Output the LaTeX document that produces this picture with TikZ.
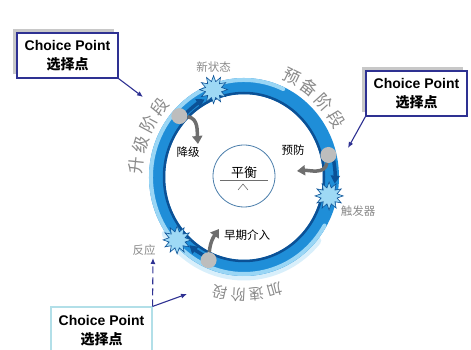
\documentclass[tikz,border=0pt]{standalone}
\usepackage{fontspec}
\setmainfont{Liberation Sans}
\newfontfamily\cjk{Noto Sans CJK SC}
\usetikzlibrary{arrows.meta,positioning,calc,shapes.geometric,shadows}
\definecolor{cpnavy}{HTML}{2E3192}
\definecolor{cpcyan}{HTML}{B2DFE8}
\definecolor{cpshadow}{HTML}{C8C8C8}
\definecolor{ringblue}{HTML}{1F8ED8}
\definecolor{ringdark}{HTML}{0B5196}
\definecolor{ringlight}{HTML}{9AD6F5}
\definecolor{ringhalo}{HTML}{D8EFFB}
\definecolor{starfill}{HTML}{9ED9F5}
\definecolor{labgray}{HTML}{8A8A8A}
\definecolor{dotgray}{HTML}{BDBDBD}
\definecolor{armgray}{HTML}{6E6E6E}
\definecolor{balblue}{HTML}{4A7DAA}
\tikzset{
  cpbox/.style={draw=cpnavy, line width=1.1pt, fill=white, align=center,
    font=\bfseries\fontsize{14}{19}\selectfont, minimum width=101pt,
    minimum height=45pt, inner sep=0pt},
  cpshade/.style={general shadow={fill=cpshadow, shadow xshift=-4pt, shadow yshift=4pt}},
  cparr/.style={-{Latex[length=6pt,width=5pt]}, cpnavy, line width=1.1pt},
  burst/.style={star, star points=12, star point ratio=1.7, minimum size=28pt,
    inner sep=0pt, fill=starfill, draw=ringdark, line width=0.6pt},
  choice/.style={circle, fill=dotgray, minimum size=16pt, inner sep=0pt},
  branch/.style={-{Triangle[length=8pt,width=10pt]}, armgray, line width=3.5pt},
  flow/.style={-{Triangle[length=8pt,width=9pt]}, ringdark, line width=3.5pt},
  stage/.style={font=\cjk\fontsize{17}{17}\selectfont, labgray, inner sep=0pt},
  minor/.style={font=\cjk\fontsize{11.5}{12}\selectfont, inner sep=0pt},
}
\begin{document}
\begin{tikzpicture}[x=1pt, y=1pt]
  \useasboundingbox (0,0) rectangle (471,350);
  \begin{scope}[shift={(244,173)}]
    \draw[ringhalo, line width=9pt, line cap=round] (215:95pt and 99pt)
      arc[start angle=215, end angle=320, x radius=95pt, y radius=99pt];
    \draw[ringblue, line width=16pt] (0,0) ellipse [x radius=87pt, y radius=91pt];
    \draw[ringlight, line width=4pt, line cap=round] (65:93pt and 97pt)
      arc[start angle=65, end angle=330, x radius=93pt, y radius=97pt];
    \draw[ringdark, line width=2.5pt] (0,0) ellipse [x radius=80pt, y radius=84pt];
    \draw[flow] (134:84pt and 88pt) arc[start angle=134, end angle=118, x radius=84pt, y radius=88pt];
    \draw[flow] (12:91pt and 95pt) arc[start angle=12, end angle=-4, x radius=91pt, y radius=95pt];
    \draw[flow] (243:85pt and 89pt) arc[start angle=243, end angle=230, x radius=85pt, y radius=89pt];
    \node[burst] (new) at (110:89pt and 93pt) {};
    \node[burst] (trig) at (-12:87pt and 91pt) {};
    \node[burst] (react) at (222:90pt and 94pt) {};
    \node[choice] (dot1) at (138:87pt and 91pt) {};
    \node[choice] (dot2) at (14:87pt and 91pt) {};
    \node[choice] (dot3) at (246:87pt and 91pt) {};
    \foreach \ch/\a [count=\i] in {升/174,级/163,阶/152,段/141}
      \node[stage, rotate=\a-90] (up\i) at (\a:108pt and 112pt) {\ch};
    \foreach \ch/\a [count=\i] in {预/64,备/53,阶/42,段/31}
      \node[stage, rotate=\a-90] (prep\i) at (\a:108pt and 112pt) {\ch};
    \foreach \ch/\a [count=\i] in {加/286,速/276.5,阶/267,段/257.5}
      \node[stage, font=\cjk\fontsize{15}{15}\selectfont, rotate=\a-90] (acc\i)
        at (\a:112pt and 118pt) {\ch};
  \end{scope}

  \node[minor, labgray, above=2pt of new] (newlab) {新状态};
  \node[minor, labgray] (triglab) at (358,139) {触发器};
  \node[minor, labgray] (reactlab) at (144,100) {反应};

  \coordinate (down) at (198,206);
  \coordinate (prev) at (297,179);
  \coordinate (early) at (219,121);
  \draw[branch] (dot1) to[out=-5, in=95] (down);
  \draw[branch] (dot2) to[out=-100, in=5] (prev);
  \draw[branch] (dot3) to[out=85, in=-125] (early);
  \node[minor] (downlab) at (188,198) {降级};
  \node[minor] (prevlab) at (293,200) {预防};
  \node[minor] (earlylab) at (247,115) {早期介入};

  \node[circle, draw=balblue, line width=0.8pt, minimum size=62pt] (bal) at (244,174) {};
  \node[font=\cjk\fontsize{13}{13}\selectfont, inner sep=1pt] (baltxt) at (244,177) {平衡};
  \draw[armgray, line width=0.7pt] ([xshift=-10pt]baltxt.south west) -- ([xshift=10pt]baltxt.south east);
  \draw[armgray, line width=0.6pt] (238,160) -- (243,166) -- (248,160);

  \node[cpbox, cpshade] (cp1) at (67.5,294.5) {Choice Point\\{\cjk 选择点}};
  \node[cpbox, cpshade] (cp2) at (416.5,256.5) {Choice Point\\{\cjk 选择点}};
  \node[cpbox, draw=cpcyan, minimum height=48pt] (cp3) at (101.5,19) {Choice Point\\{\cjk 选择点}};
  \coordinate (aim1) at (143,253);
  \coordinate (aim2) at (348,202);
  \coordinate (aim3) at (153,92);
  \coordinate (aim4) at (187,56);
  \draw[cparr] (cp1.south east) -- (aim1);
  \draw[cparr] (cp2.south west) -- (aim2);
  \draw[cparr, dash pattern=on 7pt off 4pt] (cp3.north east) -- (aim3);
  \draw[cparr] (cp3.north east) -- (aim4);
\end{tikzpicture}
\end{document}
